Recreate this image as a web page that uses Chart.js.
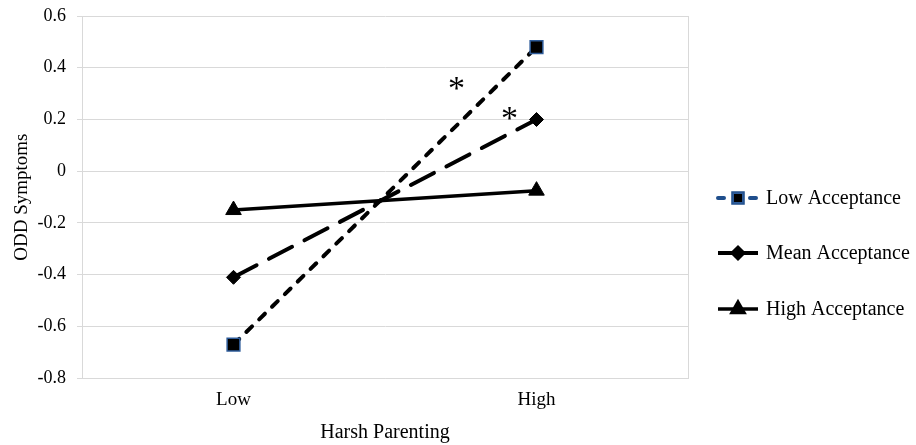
<!DOCTYPE html>
<html>
<head>
<meta charset="utf-8">
<script src="https://cdn.jsdelivr.net/npm/chart.js@4.4.0/dist/chart.umd.min.js"></script>
<style>
  html, body { margin: 0; padding: 0; background: #fff; }
  #wrap { width: 916px; height: 445px; }
</style>
</head>
<body>
<div id="wrap"><canvas id="odd-chart"></canvas></div>
<script>
var categories = ['Low', 'High'];
var lowAcceptance = [-0.67, 0.48];
var meanAcceptance = [-0.41, 0.20];
var highAcceptance = [-0.15, -0.075];
var yTicks = [-0.8, -0.6, -0.4, -0.2, 0, 0.2, 0.4, 0.6];
var seriesNames = ['Low Acceptance', 'Mean Acceptance', 'High Acceptance'];

// significance markers: [position between Low and High (0..1), y value]
var stars = [[0.736, 0.33], [0.911, 0.215]];

var serif = "'Liberation Serif', 'DejaVu Serif', serif";

var extras = {
    id: 'extras',
    afterDraw: function (chart) {
        var ctx = chart.ctx;
        var area = chart.chartArea;
        var xs = chart.scales.x;
        var ys = chart.scales.y;

        ctx.save();
        // plot border (right side)
        ctx.strokeStyle = '#d9d9d9';
        ctx.lineWidth = 1;
        ctx.beginPath();
        ctx.moveTo(Math.round(area.right) + 0.5, area.top);
        ctx.lineTo(Math.round(area.right) + 0.5, area.bottom);
        ctx.stroke();

        // asterisks
        var x0 = xs.getPixelForValue(0);
        var x1 = xs.getPixelForValue(1);
        ctx.fillStyle = '#000';
        ctx.font = '34px ' + serif;
        ctx.textAlign = 'center';
        ctx.textBaseline = 'middle';
        stars.forEach(function (s) {
            ctx.fillText('*', x0 + (x1 - x0) * s[0], ys.getPixelForValue(s[1]) + 4);
        });

        // legend
        var lx = area.right + 30;
        var rows = [198, 253, 309];
        ctx.font = '20px ' + serif;
        ctx.textAlign = 'left';
        chart.data.datasets.forEach(function (ds, i) {
            var y = rows[i];
            ctx.beginPath();
            ctx.lineWidth = ds.borderWidth;
            ctx.lineCap = i === 0 ? 'round' : 'butt';
            ctx.strokeStyle = i === 0 ? '#1f4e8c' : '#000';
            ctx.setLineDash(i === 0 ? [6, 10] : []);
            ctx.moveTo(lx, y);
            ctx.lineTo(lx + 40, y);
            ctx.stroke();
            ctx.setLineDash([]);
            Chart.helpers.drawPoint(ctx, {
                pointStyle: ds.pointStyle,
                radius: ds.pointRadius * 0.75,
                borderWidth: ds.pointBorderWidth || 1,
                rotation: 0
            }, lx + 20, y);
            ctx.lineWidth = ds.pointBorderWidth || 1;
            ctx.fillStyle = ds.pointBackgroundColor;
            ctx.strokeStyle = ds.pointBorderColor;
            ctx.fill();
            ctx.stroke();
            ctx.fillStyle = '#000';
            ctx.fillText(seriesNames[i], lx + 48, y + 1);
        });
        ctx.restore();
    }
};

new Chart(document.getElementById('odd-chart'), {
    type: 'line',
    data: {
        labels: categories,
        datasets: [
            {
                label: seriesNames[0],
                data: lowAcceptance,
                borderColor: '#000',
                borderWidth: 4,
                borderDash: [8, 10],
                borderCapStyle: 'round',
                pointStyle: 'rect',
                pointRadius: 9,
                pointBackgroundColor: '#000',
                pointBorderColor: '#2e5c9a',
                pointBorderWidth: 1.5
            },
            {
                label: seriesNames[1],
                data: meanAcceptance,
                borderColor: '#000',
                borderWidth: 4,
                borderDash: [26, 14],
                borderCapStyle: 'round',
                pointStyle: 'rectRot',
                pointRadius: 7,
                pointBackgroundColor: '#000',
                pointBorderColor: '#000',
                pointBorderWidth: 1
            },
            {
                label: seriesNames[2],
                data: highAcceptance,
                borderColor: '#000',
                borderWidth: 3.5,
                pointStyle: 'triangle',
                pointRadius: 9,
                pointBackgroundColor: '#000',
                pointBorderColor: '#000',
                pointBorderWidth: 1
            }
        ]
    },
    options: {
        responsive: true,
        maintainAspectRatio: false,
        animation: false,
        events: [],
        layout: { padding: { top: 16, right: 228, left: 11, bottom: 0 } },
        plugins: {
            legend: { display: false },
            tooltip: { enabled: false }
        },
        scales: {
            x: {
                offset: true,
                grid: { display: false, drawTicks: false },
                border: { display: true, color: '#d9d9d9' },
                ticks: { color: '#000', padding: 10, font: { family: serif, size: 19 } },
                title: {
                    display: true,
                    text: 'Harsh Parenting',
                    color: '#000',
                    padding: { top: 0, bottom: 0 },
                    font: { family: serif, size: 20 }
                }
            },
            y: {
                min: -0.8,
                max: 0.6,
                afterBuildTicks: function (axis) {
                    axis.ticks = yTicks.map(function (v) { return { value: v }; });
                },
                afterFit: function (axis) {
                    axis.width = 71;
                    axis.paddingTop = 0;
                },
                grid: { color: '#d9d9d9', tickLength: 5 },
                border: { display: true, color: '#d9d9d9' },
                ticks: {
                    color: '#000',
                    padding: 11,
                    font: { family: serif, size: 18 },
                    callback: function (v) { return Math.round(v * 10) / 10; }
                },
                title: {
                    display: true,
                    text: 'ODD Symptoms',
                    color: '#000',
                    padding: { top: 0, bottom: 0 },
                    font: { family: serif, size: 19 }
                }
            }
        }
    },
    plugins: [extras]
});
</script>
</body>
</html>
